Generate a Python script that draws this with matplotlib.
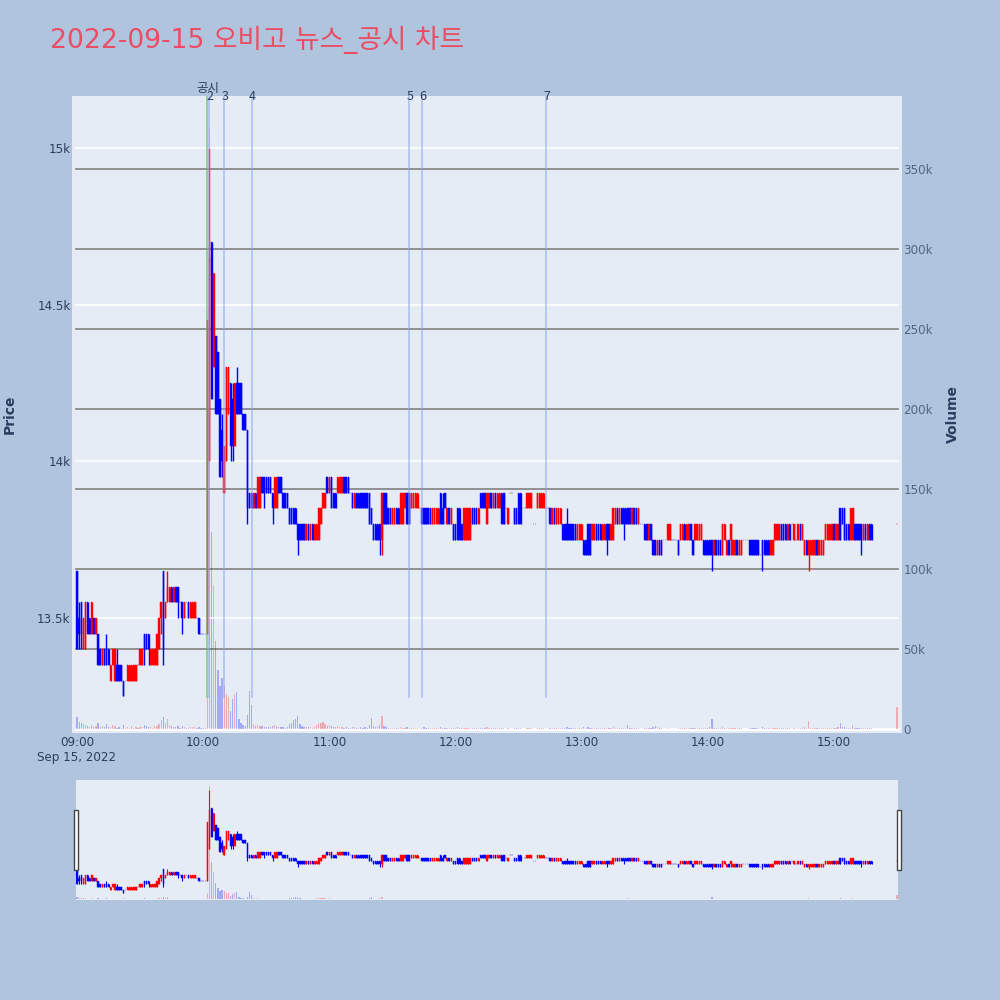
import pandas as pd
import matplotlib
matplotlib.use("Agg")
import matplotlib.pyplot as plt
import matplotlib.dates as mdates
import matplotlib.transforms as mtrans
from matplotlib.patches import Rectangle

# 1-minute candles 09:00 .. 15:18, then the 15:30 closing auction
opens = [
    13650, 13500, 13550, 13400, 13400, 13550, 13500, 13450, 13500, 13450,
    13450, 13400, 13350, 13400, 13400, 13400, 13300, 13350, 13300, 13350,
    13350, 13350, 13300, 13300, 13300, 13300, 13300, 13300, 13300, 13350,
    13350, 13350, 13450, 13450, 13450, 13350, 13350, 13350, 13350, 13400,
    13500, 13650, 13500, 13550, 13550, 13600, 13550, 13600, 13600, 13550,
    13550, 13500, 13550, 13550, 13500, 13500, 13500, 13500, 13500, 13450,
    13450, 13450, 13450, 14000, 14700, 14300, 14400, 14350, 14200, 14100,
    13900, 14000, 14150, 14250, 14200, 14050, 14250, 14250, 14250, 14150,
    14150, 14100, 13900, 13900, 13850, 13900, 13850, 13850, 13950, 13950,
    13950, 13950, 13950, 13900, 13850, 13850, 13950, 13950, 13900, 13900,
    13900, 13850, 13850, 13850, 13850, 13800, 13800, 13800, 13800, 13750,
    13800, 13750, 13800, 13750, 13750, 13750, 13800, 13850, 13850, 13950,
    13900, 13950, 13900, 13900, 13900, 13900, 13900, 13950, 13950, 13950,
    13900, 13900, 13850, 13900, 13900, 13900, 13900, 13900, 13900, 13900,
    13850, 13800, 13800, 13800, 13800, 13750, 13900, 13900, 13850, 13850,
    13800, 13800, 13850, 13850, 13800, 13800, 13850, 13900, 13900, 13850,
    13850, 13850, 13850, 13850, 13850, 13850, 13850, 13850, 13850, 13800,
    13800, 13800, 13800, 13900, 13850, 13900, 13800, 13850, 13800, 13800,
    13800, 13850, 13850, 13800, 13750, 13750, 13750, 13750, 13850, 13850,
    13850, 13800, 13900, 13900, 13900, 13800, 13850, 13900, 13850, 13900,
    13850, 13850, 13900, 13900, 13850, 13800, 13900, 13900, 13850, 13850,
    13900, 13900, 13850, 13850, 13850, 13850, 13850, 13800, 13800, 13850,
    13850, 13850, 13850, 13850, 13850, 13850, 13800, 13850, 13800, 13800,
    13800, 13800, 13800, 13800, 13800, 13800, 13800, 13800, 13750, 13750,
    13750, 13750, 13750, 13800, 13800, 13750, 13750, 13800, 13800, 13800,
    13750, 13750, 13800, 13800, 13750, 13750, 13800, 13850, 13800, 13850,
    13850, 13850, 13850, 13850, 13800, 13850, 13850, 13800, 13800, 13800,
    13800, 13800, 13750, 13800, 13750, 13750, 13700, 13750, 13750, 13750,
    13750, 13750, 13750, 13750, 13750, 13750, 13750, 13750, 13750, 13800,
    13750, 13750, 13800, 13750, 13750, 13750, 13750, 13750, 13750, 13750,
    13750, 13750, 13750, 13700, 13750, 13750, 13750, 13700, 13750, 13700,
    13750, 13750, 13700, 13700, 13750, 13700, 13700, 13750, 13750, 13750,
    13750, 13750, 13750, 13750, 13750, 13700, 13750, 13750, 13750, 13750,
    13700, 13700, 13750, 13750, 13750, 13800, 13800, 13800, 13750, 13800,
    13800, 13750, 13750, 13750, 13800, 13750, 13700, 13750, 13700, 13700,
    13700, 13700, 13750, 13700, 13700, 13700, 13750, 13750, 13750, 13750,
    13800, 13750, 13750, 13850, 13850, 13850, 13800, 13800, 13750, 13750,
    13800, 13800, 13800, 13800, 13750, 13800, 13750, 13800, 13800,
    13800,
]
highs = [
    13650, 13550, 13550, 13500, 13550, 13550, 13500, 13550, 13500, 13500,
    13450, 13400, 13400, 13400, 13450, 13400, 13350, 13400, 13400, 13400,
    13350, 13350, 13300, 13300, 13350, 13350, 13350, 13350, 13350, 13350,
    13400, 13400, 13450, 13450, 13450, 13400, 13400, 13400, 13450, 13500,
    13550, 13650, 13550, 13650, 13600, 13600, 13600, 13600, 13600, 13550,
    13550, 13550, 13550, 13550, 13550, 13550, 13550, 13500, 13500, 13450,
    13450, 13450, 14450, 15000, 14700, 14600, 14400, 14350, 14200, 14150,
    14050, 14300, 14300, 14250, 14250, 14250, 14300, 14250, 14250, 14150,
    14150, 14100, 13900, 13900, 13900, 13900, 13950, 13950, 13950, 13950,
    13950, 13950, 13950, 13900, 13950, 13950, 13950, 13950, 13900, 13900,
    13900, 13850, 13850, 13850, 13850, 13800, 13800, 13800, 13800, 13800,
    13800, 13800, 13800, 13800, 13800, 13850, 13850, 13900, 13900, 13950,
    13950, 13950, 13900, 13900, 13950, 13950, 13950, 13950, 13950, 13950,
    13900, 13900, 13900, 13900, 13900, 13900, 13900, 13900, 13900, 13900,
    13850, 13800, 13800, 13800, 13800, 13900, 13900, 13900, 13850, 13850,
    13850, 13850, 13850, 13850, 13900, 13900, 13900, 13900, 13900, 13900,
    13900, 13900, 13900, 13850, 13850, 13850, 13850, 13850, 13850, 13850,
    13850, 13850, 13850, 13900, 13900, 13900, 13850, 13850, 13850, 13800,
    13800, 13850, 13850, 13800, 13850, 13850, 13850, 13850, 13850, 13850,
    13850, 13850, 13900, 13900, 13900, 13900, 13900, 13900, 13900, 13900,
    13900, 13900, 13900, 13900, 13850, 13850, 13900, 13900, 13850, 13850,
    13900, 13900, 13850, 13850, 13900, 13900, 13900, 13800, 13800, 13900,
    13900, 13900, 13900, 13850, 13850, 13850, 13850, 13850, 13850, 13850,
    13850, 13800, 13800, 13850, 13800, 13800, 13800, 13800, 13800, 13800,
    13800, 13750, 13750, 13800, 13800, 13800, 13800, 13800, 13800, 13800,
    13800, 13800, 13800, 13800, 13800, 13850, 13850, 13850, 13850, 13850,
    13850, 13850, 13850, 13850, 13850, 13850, 13850, 13850, 13800, 13800,
    13800, 13800, 13800, 13800, 13750, 13750, 13750, 13750, 13750, 13750,
    13750, 13800, 13800, 13750, 13750, 13750, 13750, 13800, 13800, 13800,
    13800, 13800, 13800, 13750, 13800, 13800, 13800, 13800, 13750, 13750,
    13750, 13750, 13750, 13750, 13750, 13750, 13750, 13800, 13800, 13750,
    13750, 13800, 13750, 13750, 13750, 13750, 13750, 13750, 13750, 13750,
    13750, 13750, 13750, 13750, 13750, 13700, 13750, 13750, 13750, 13750,
    13750, 13750, 13800, 13800, 13800, 13800, 13800, 13800, 13800, 13800,
    13800, 13800, 13750, 13800, 13800, 13800, 13750, 13750, 13750, 13750,
    13750, 13750, 13750, 13750, 13750, 13750, 13800, 13800, 13800, 13800,
    13800, 13800, 13800, 13850, 13850, 13850, 13800, 13800, 13850, 13850,
    13800, 13800, 13800, 13800, 13800, 13800, 13800, 13800, 13800,
    13800,
]
lows = [
    13400, 13400, 13400, 13400, 13400, 13450, 13450, 13450, 13450, 13450,
    13350, 13350, 13350, 13350, 13350, 13350, 13300, 13350, 13300, 13300,
    13300, 13300, 13250, 13300, 13300, 13300, 13300, 13300, 13300, 13350,
    13350, 13350, 13350, 13400, 13350, 13350, 13350, 13350, 13350, 13400,
    13450, 13350, 13500, 13550, 13550, 13550, 13550, 13550, 13500, 13550,
    13450, 13500, 13550, 13500, 13500, 13500, 13500, 13500, 13450, 13450,
    13450, 13450, 13450, 14000, 14200, 14300, 14150, 14150, 13950, 13950,
    13900, 14000, 14150, 14000, 14000, 14050, 14150, 14150, 14150, 14100,
    14100, 13800, 13850, 13850, 13850, 13850, 13850, 13850, 13900, 13850,
    13900, 13900, 13900, 13800, 13850, 13850, 13900, 13900, 13850, 13850,
    13850, 13800, 13800, 13800, 13800, 13700, 13750, 13750, 13750, 13750,
    13750, 13750, 13750, 13750, 13750, 13750, 13800, 13850, 13850, 13900,
    13900, 13850, 13850, 13850, 13900, 13900, 13900, 13900, 13900, 13900,
    13900, 13850, 13850, 13850, 13850, 13850, 13850, 13850, 13850, 13800,
    13800, 13750, 13750, 13750, 13700, 13700, 13800, 13800, 13800, 13800,
    13800, 13800, 13800, 13800, 13800, 13800, 13850, 13800, 13800, 13850,
    13850, 13850, 13850, 13850, 13800, 13800, 13800, 13800, 13800, 13800,
    13800, 13800, 13800, 13800, 13800, 13850, 13800, 13800, 13800, 13750,
    13750, 13750, 13750, 13750, 13750, 13750, 13750, 13750, 13800, 13800,
    13800, 13800, 13850, 13850, 13850, 13800, 13850, 13850, 13850, 13850,
    13850, 13850, 13800, 13800, 13850, 13800, 13900, 13900, 13800, 13800,
    13800, 13800, 13850, 13850, 13850, 13850, 13850, 13800, 13800, 13850,
    13850, 13850, 13850, 13850, 13850, 13800, 13800, 13800, 13800, 13800,
    13800, 13750, 13750, 13750, 13750, 13750, 13750, 13750, 13750, 13750,
    13750, 13700, 13700, 13700, 13700, 13750, 13750, 13750, 13750, 13750,
    13750, 13750, 13700, 13750, 13750, 13750, 13800, 13800, 13800, 13800,
    13750, 13800, 13800, 13800, 13800, 13800, 13800, 13800, 13800, 13800,
    13750, 13750, 13750, 13750, 13700, 13700, 13700, 13700, 13700, 13750,
    13750, 13750, 13750, 13750, 13750, 13750, 13700, 13750, 13750, 13750,
    13750, 13750, 13750, 13700, 13750, 13750, 13750, 13750, 13700, 13700,
    13700, 13700, 13650, 13700, 13700, 13700, 13700, 13700, 13750, 13700,
    13700, 13700, 13700, 13700, 13700, 13700, 13700, 13750, 13750, 13750,
    13700, 13700, 13700, 13700, 13700, 13700, 13650, 13700, 13700, 13700,
    13700, 13700, 13750, 13750, 13750, 13750, 13750, 13750, 13750, 13750,
    13800, 13750, 13750, 13750, 13750, 13750, 13700, 13700, 13650, 13700,
    13700, 13700, 13700, 13700, 13700, 13700, 13750, 13750, 13750, 13750,
    13750, 13750, 13750, 13750, 13800, 13750, 13750, 13750, 13750, 13750,
    13750, 13750, 13750, 13700, 13750, 13750, 13750, 13750, 13750,
    13800,
]
closes = [
    13400, 13450, 13450, 13500, 13550, 13450, 13450, 13550, 13450, 13500,
    13350, 13350, 13400, 13350, 13350, 13350, 13350, 13400, 13400, 13300,
    13300, 13300, 13250, 13300, 13350, 13350, 13350, 13350, 13350, 13350,
    13400, 13400, 13400, 13400, 13400, 13400, 13400, 13400, 13450, 13500,
    13550, 13400, 13550, 13600, 13600, 13550, 13600, 13550, 13550, 13550,
    13500, 13550, 13550, 13500, 13550, 13550, 13550, 13500, 13450, 13450,
    13450, 13450, 14450, 14650, 14200, 14600, 14150, 14150, 13950, 14000,
    14050, 14300, 14300, 14050, 14050, 14250, 14150, 14150, 14150, 14100,
    14100, 13850, 13850, 13850, 13900, 13850, 13950, 13950, 13900, 13900,
    13900, 13900, 13900, 13850, 13950, 13950, 13900, 13900, 13850, 13850,
    13850, 13800, 13800, 13800, 13800, 13750, 13750, 13750, 13750, 13800,
    13750, 13800, 13750, 13800, 13800, 13850, 13850, 13900, 13900, 13900,
    13950, 13850, 13850, 13850, 13950, 13950, 13950, 13900, 13900, 13900,
    13900, 13850, 13900, 13850, 13850, 13850, 13850, 13850, 13850, 13800,
    13800, 13750, 13750, 13750, 13750, 13900, 13800, 13800, 13800, 13800,
    13850, 13850, 13800, 13800, 13900, 13900, 13900, 13800, 13800, 13900,
    13900, 13900, 13900, 13850, 13800, 13800, 13800, 13800, 13800, 13850,
    13850, 13850, 13850, 13800, 13800, 13850, 13850, 13800, 13850, 13750,
    13750, 13750, 13750, 13750, 13850, 13850, 13850, 13850, 13800, 13800,
    13800, 13850, 13850, 13850, 13850, 13900, 13900, 13850, 13900, 13850,
    13900, 13900, 13800, 13800, 13850, 13850, 13900, 13900, 13800, 13800,
    13800, 13800, 13850, 13850, 13900, 13900, 13900, 13800, 13800, 13900,
    13900, 13900, 13900, 13850, 13850, 13800, 13850, 13800, 13850, 13850,
    13850, 13750, 13750, 13750, 13750, 13750, 13750, 13750, 13800, 13800,
    13800, 13700, 13700, 13700, 13700, 13800, 13800, 13750, 13750, 13750,
    13800, 13800, 13750, 13750, 13800, 13850, 13850, 13800, 13850, 13800,
    13800, 13800, 13800, 13800, 13850, 13800, 13800, 13850, 13800, 13800,
    13750, 13750, 13800, 13750, 13700, 13700, 13750, 13700, 13700, 13750,
    13750, 13800, 13800, 13750, 13750, 13750, 13700, 13800, 13800, 13750,
    13800, 13800, 13750, 13700, 13800, 13800, 13800, 13800, 13700, 13700,
    13700, 13700, 13700, 13750, 13700, 13700, 13700, 13800, 13800, 13750,
    13700, 13800, 13750, 13750, 13700, 13750, 13750, 13750, 13750, 13750,
    13700, 13700, 13700, 13700, 13700, 13700, 13700, 13700, 13700, 13700,
    13750, 13750, 13800, 13800, 13800, 13750, 13750, 13750, 13800, 13750,
    13800, 13800, 13750, 13800, 13750, 13800, 13750, 13700, 13750, 13750,
    13750, 13750, 13700, 13750, 13750, 13750, 13800, 13800, 13800, 13800,
    13750, 13800, 13800, 13750, 13800, 13750, 13750, 13750, 13850, 13850,
    13750, 13750, 13750, 13750, 13800, 13750, 13800, 13750, 13750,
    13800,
]
volumes = [
    7700, 4500, 3500, 3000, 2500, 2000, 1500, 2500, 1200, 1800,
    3500, 1500, 2000, 1000, 3000, 1200, 1500, 2200, 1600, 900,
    1400, 800, 2600, 700, 1300, 900, 1700, 800, 1100, 400,
    1500, 1200, 2600, 1800, 1000, 1400, 900, 1600, 2100, 2900,
    5500, 7700, 3500, 6000, 2400, 1800, 1500, 1300, 2000, 600,
    1700, 1200, 500, 900, 1300, 1000, 1400, 500, 1200, 400,
    600, 900, 20000, 375000, 123000, 90000, 55000, 37000, 27000, 32000,
    27000, 22000, 20000, 11000, 19000, 22000, 23000, 6000, 3500, 2500,
    2000, 9000, 24000, 15000, 3000, 2000, 2500, 2000, 1800, 1200,
    1500, 1000, 1300, 1600, 2200, 1800, 1400, 1000, 1200, 900,
    1500, 3000, 4000, 5500, 6500, 8000, 3000, 2000, 1500, 1200,
    1000, 1400, 900, 1100, 2500, 4000, 3500, 4200, 3000, 2000,
    2500, 1800, 1200, 1000, 1600, 1300, 1100, 900, 1200, 800,
    500, 1000, 1300, 900, 700, 1100, 800, 1000, 600, 2500,
    7000, 2000, 1500, 1200, 2500, 8000, 2000, 1300, 900, 700,
    800, 600, 700, 500, 1200, 900, 700, 1000, 800, 600,
    700, 500, 900, 300, 800, 1000, 600, 700, 500, 800,
    600, 900, 700, 1500, 800, 600, 500, 700, 400, 900,
    600, 1100, 800, 500, 900, 700, 600, 500, 800, 600,
    400, 700, 900, 600, 500, 1000, 700, 500, 600, 400,
    800, 600, 900, 700, 300, 500, 300, 200, 600, 500,
    800, 700, 300, 200, 600, 500, 700, 200, 300, 600,
    800, 500, 600, 300, 200, 700, 500, 600, 400, 700,
    500, 900, 700, 1000, 600, 800, 500, 700, 600, 800,
    500, 1200, 900, 1100, 800, 700, 600, 800, 500, 600,
    700, 500, 900, 600, 700, 1000, 800, 600, 700, 500,
    900, 600, 2500, 700, 600, 500, 700, 800, 300, 200,
    700, 600, 500, 600, 1500, 2000, 1200, 800, 600, 200,
    300, 400, 300, 200, 300, 200, 700, 800, 600, 500,
    700, 500, 800, 900, 600, 700, 500, 600, 800, 700,
    900, 1200, 6000, 900, 700, 600, 800, 1000, 700, 600,
    800, 700, 600, 500, 700, 600, 500, 200, 300, 200,
    800, 600, 700, 500, 600, 300, 1500, 800, 600, 500,
    700, 500, 800, 600, 700, 500, 600, 400, 700, 500,
    300, 600, 200, 700, 500, 800, 1500, 900, 5000, 800,
    700, 600, 500, 700, 600, 800, 900, 700, 600, 800,
    500, 700, 1500, 4000, 1200, 1000, 700, 600, 900, 2500,
    800, 600, 700, 900, 600, 500, 700, 600, 800,
    14000,
]

news_times = ["10:02", "10:03", "10:10", "10:23", "11:38", "11:44", "12:43"]
news_labels = ["공시", "2", "3", "4", "5", "6", "7"]

price_ticks = [13500, 14000, 14500, 15000]
price_labels = ["13.5k", "14k", "14.5k", "15k"]
vol_ticks = [0, 50000, 100000, 150000, 200000, 250000, 300000, 350000]
vol_labels = ["0", "50k", "100k", "150k", "200k", "250k", "300k", "350k"]

title = "2022-09-15 오비고 뉴스_공시 차트"

times = list(pd.date_range("2022-09-15 09:00", periods=len(opens) - 1, freq="min"))
times.append(pd.Timestamp("2022-09-15 15:30"))
x = mdates.date2num(times)

# up/down like plotly: equal open/close falls back to previous close
up = []
for i in range(len(opens)):
    if closes[i] != opens[i]:
        up.append(closes[i] > opens[i])
    else:
        prev = closes[i - 1] if i > 0 else closes[i]
        up.append(closes[i] > prev)
cols = ["#ff0000" if u else "#0000ff" for u in up]
vcols = [(1, 0, 0, 0.28) if u else (0, 0, 1, 0.28) for u in up]

MIN = 1 / 1440
t0 = mdates.date2num(pd.Timestamp("2022-09-15 09:00"))
PLOT_BG = "#e5ecf6"
TXT = "#2a3f5f"
KR = ["DejaVu Sans", "Noto Sans CJK KR"]

plt.rcParams["font.family"] = KR

fig = plt.figure(figsize=(10, 10), dpi=100, facecolor="#b0c4de")


def draw(ax, axv, lw_w):
    axv.bar(x, volumes, width=0.6 * MIN, color=vcols, linewidth=0, zorder=2)
    bottoms = [min(o, c) for o, c in zip(opens, closes)]
    heights = [abs(c - o) for o, c in zip(opens, closes)]
    ax.vlines(x, lows, highs, colors=cols, lw=lw_w, zorder=3)
    ax.bar(x, heights, bottom=bottoms, width=0.7 * MIN, color=cols,
           edgecolor=cols, linewidth=0.3, zorder=3)
    ax.set_ylim(13133, 15166)
    axv.set_ylim(-2500, 395600)


# main chart: axes box spans x 72..902, y 96..733 px
ax = fig.add_axes([0.072, 0.267, 0.83, 0.637])
axv = ax.twinx()
ax.set_zorder(axv.get_zorder() + 1)
ax.patch.set_visible(False)
axv.patch.set_visible(True)
axv.set_facecolor(PLOT_BG)

draw(ax, axv, 1.0)
ax.set_xlim(t0 - 2.4 * MIN, t0 + 392.4 * MIN)

gx0, gx1 = 4 / 830, 826 / 830
for v in price_ticks:
    ax.axhline(v, xmin=gx0, xmax=gx1, color="white", lw=1.2, zorder=0.5)
for v in vol_ticks[1:]:
    axv.axhline(v, xmin=gx0, xmax=gx1, color="#808080", lw=1.2, zorder=0.5)
axv.axhline(0, xmin=gx0, xmax=gx1, color="white", lw=2, zorder=0.6)

ax.set_yticks(price_ticks)
ax.set_yticklabels(price_labels)
axv.set_yticks(vol_ticks)
axv.set_yticklabels(vol_labels)

ax.xaxis.set_major_locator(mdates.HourLocator(byhour=range(9, 16)))


def time_fmt(v, pos):
    d = mdates.num2date(v)
    s = d.strftime("%H:%M")
    if d.hour == 9:
        s += "\n" + d.strftime("%b %d, %Y")
    return s


ax.xaxis.set_major_formatter(plt.FuncFormatter(time_fmt))
for a in (ax, axv):
    for sp in a.spines.values():
        sp.set_visible(False)
ax.tick_params(axis="x", length=0, pad=2, labelsize=8.6, labelcolor=TXT)
ax.tick_params(axis="y", length=0, pad=1, labelsize=8.6, labelcolor=TXT)
axv.tick_params(axis="y", length=0, pad=1, labelsize=8.6, labelcolor="#506784")
for lab in ax.get_xticklabels():
    lab.set_linespacing(1.25)

# news / disclosure markers
trans = mtrans.blended_transform_factory(ax.transData, ax.transAxes)
for t, lab in zip(news_times, news_labels):
    xt = mdates.date2num(pd.Timestamp("2022-09-15 " + t))
    is_dis = lab == "공시"
    ax.axvline(xt, ymin=0.0565, ymax=1, color="#6fbf6f" if is_dis else "#8fa8ee",
               alpha=0.8 if is_dis else 0.65, lw=1.2, zorder=4)
    ax.annotate(lab, (xt, 1.0), xycoords=trans, xytext=(0 if is_dis else 0.5, 5.5 if is_dis else -0.5),
                textcoords="offset points", ha="center", va="center", fontsize=9,
                color=TXT, family=["Noto Sans CJK KR", "DejaVu Sans"],
                annotation_clip=False, zorder=5)

fig.text(0.05, 0.96, title, fontsize=19.2, color="#eb4d64", va="center", ha="left",
         family=KR)
fig.text(0.010, 0.586, "Price", rotation=90, fontsize=10, fontweight="bold",
         color=TXT, ha="center", va="center")
fig.text(0.953, 0.586, "Volume", rotation=90, fontsize=10, fontweight="bold",
         color=TXT, ha="center", va="center")

# range slider (mini copy of the whole day)
axs = fig.add_axes([0.076, 0.10, 0.822, 0.12])
axsv = axs.twinx()
axs.set_zorder(axsv.get_zorder() + 1)
axs.patch.set_visible(False)
axsv.patch.set_visible(True)
axsv.set_facecolor(PLOT_BG)
draw(axs, axsv, 0.8)
axs.set_xlim(t0 - 0.5 * MIN, t0 + 390.5 * MIN)
for a in (axs, axsv):
    a.set_xticks([])
    a.set_yticks([])
    for sp in a.spines.values():
        sp.set_visible(False)

for hx in (0.0735, 0.8965):
    fig.patches.append(Rectangle((hx, 0.13), 0.004, 0.06, transform=fig.transFigure,
                                 facecolor="white", edgecolor="#444444", lw=1))

fig.savefig("out.png", dpi=100, facecolor=fig.get_facecolor())
